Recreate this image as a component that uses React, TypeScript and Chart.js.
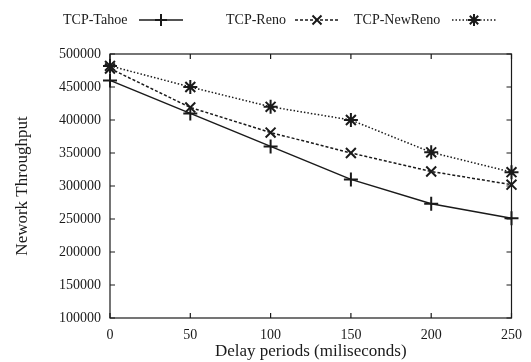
import React, { useEffect, useRef } from "react";
import { Chart, registerables } from "chart.js";

Chart.register(...registerables);

const delays = [0, 50, 100, 150, 200, 250];
const tahoe = [460000, 410000, 360000, 310000, 273000, 251000];
const reno = [478000, 419000, 381000, 350000, 322000, 302000];
const newReno = [482000, 450000, 420000, 400000, 351000, 321000];
const seriesNames = ["TCP-Tahoe", "TCP-Reno", "TCP-NewReno"];
const xTitle = "Delay periods (miliseconds)";
const yTitle = "Nework Throughput";

const FONT = "'Liberation Serif', 'Times New Roman', serif";
const INK = "#1a1a1a";

function drawMarker(ctx: CanvasRenderingContext2D, style: string, x: number, y: number, r: number) {
  ctx.beginPath();
  if (style === "cross") {
    ctx.moveTo(x - r, y); ctx.lineTo(x + r, y);
    ctx.moveTo(x, y - r); ctx.lineTo(x, y + r);
  } else if (style === "crossRot") {
    const d = r * 0.75;
    ctx.moveTo(x - d, y - d); ctx.lineTo(x + d, y + d);
    ctx.moveTo(x - d, y + d); ctx.lineTo(x + d, y - d);
  } else {
    const d = r * 0.7;
    ctx.moveTo(x - r, y); ctx.lineTo(x + r, y);
    ctx.moveTo(x, y - r); ctx.lineTo(x, y + r);
    ctx.moveTo(x - d, y - d); ctx.lineTo(x + d, y + d);
    ctx.moveTo(x - d, y + d); ctx.lineTo(x + d, y - d);
  }
  ctx.stroke();
}

const framePlugin = {
  id: "frame",
  afterDraw(chart: any) {
    const { ctx, chartArea: a, scales } = chart;
    ctx.save();
    ctx.strokeStyle = INK;
    ctx.lineWidth = 1.2;
    ctx.strokeRect(a.left, a.top, a.right - a.left, a.bottom - a.top);
    const tl = 5;
    ctx.beginPath();
    for (const v of delays) {
      const x = scales.x.getPixelForValue(v);
      ctx.moveTo(x, a.bottom); ctx.lineTo(x, a.bottom - tl);
      ctx.moveTo(x, a.top); ctx.lineTo(x, a.top + tl);
    }
    for (let v = 100000; v <= 500000; v += 50000) {
      const y = scales.y.getPixelForValue(v);
      ctx.moveTo(a.left, y); ctx.lineTo(a.left + tl, y);
      ctx.moveTo(a.right, y); ctx.lineTo(a.right - tl, y);
    }
    ctx.stroke();

    // legend
    const items = [
      { text: seriesNames[0], tx: 63, lx1: 139, lx2: 183, dash: [] as number[], style: "cross" },
      { text: seriesNames[1], tx: 226, lx1: 295, lx2: 339, dash: [3, 2], style: "crossRot" },
      { text: seriesNames[2], tx: 354, lx1: 452, lx2: 496, dash: [1.5, 2], style: "star" },
    ];
    const ly = 20;
    ctx.font = `14px ${FONT}`;
    ctx.fillStyle = INK;
    ctx.textBaseline = "middle";
    ctx.textAlign = "left";
    for (const it of items) {
      ctx.fillText(it.text, it.tx, ly);
      ctx.lineWidth = 1.5;
      ctx.setLineDash(it.dash);
      ctx.beginPath();
      ctx.moveTo(it.lx1, ly); ctx.lineTo(it.lx2, ly);
      ctx.stroke();
      ctx.setLineDash([]);
      ctx.lineWidth = 2;
      drawMarker(ctx, it.style, (it.lx1 + it.lx2) / 2, ly, 6);
    }
    ctx.restore();
  },
};

export default function App() {
  const ref = useRef<HTMLCanvasElement>(null);
  useEffect(() => {
    document.body.style.margin = "0";
    const mk = (label: string, data: number[], dash: number[], style: string) => ({
      label,
      data: delays.map((d, i) => ({ x: d, y: data[i] })),
      borderColor: INK,
      backgroundColor: INK,
      borderWidth: 1.5,
      borderDash: dash,
      pointStyle: style,
      pointRadius: 7,
      pointBorderWidth: 2,
      pointBorderColor: INK,
      fill: false,
      tension: 0,
      clip: false,
    });
    const chart = new Chart(ref.current!, {
      type: "line",
      data: {
        datasets: [
          mk(seriesNames[0], tahoe, [], "cross"),
          mk(seriesNames[1], reno, [3, 2], "crossRot"),
          mk(seriesNames[2], newReno, [1.5, 2], "star"),
        ] as any,
      },
      options: {
        animation: false,
        responsive: false,
        layout: { padding: { top: 54, right: 19, left: 0, bottom: 0 } },
        plugins: { legend: { display: false }, tooltip: { enabled: false } },
        scales: {
          x: {
            type: "linear",
            min: 0,
            max: 250,
            ticks: { stepSize: 50, color: INK, font: { family: FONT, size: 14 }, padding: 9, maxRotation: 0, callback: (v: any) => String(v) },
            grid: { display: false, drawTicks: false },
            border: { display: false },
            title: { display: true, text: xTitle, color: INK, font: { family: FONT, size: 17 }, padding: { top: 0, bottom: 0 } },
            afterFit: (s: any) => { s.height = 44; },
          },
          y: {
            type: "linear",
            min: 100000,
            max: 500000,
            ticks: { stepSize: 50000, color: INK, font: { family: FONT, size: 14 }, padding: 9, callback: (v: any) => String(v) },
            grid: { display: false, drawTicks: false },
            border: { display: false },
            title: { display: true, text: yTitle, color: INK, font: { family: FONT, size: 17 }, padding: { top: 12, bottom: 0 } },
            afterFit: (s: any) => { s.width = 110; },
          },
        },
      } as any,
      plugins: [framePlugin],
    });
    return () => chart.destroy();
  }, []);
  return (
    <div style={{ width: 531, height: 362, background: "#fff" }}>
      <canvas ref={ref} width={531} height={362} style={{ display: "block" }} />
    </div>
  );
}
